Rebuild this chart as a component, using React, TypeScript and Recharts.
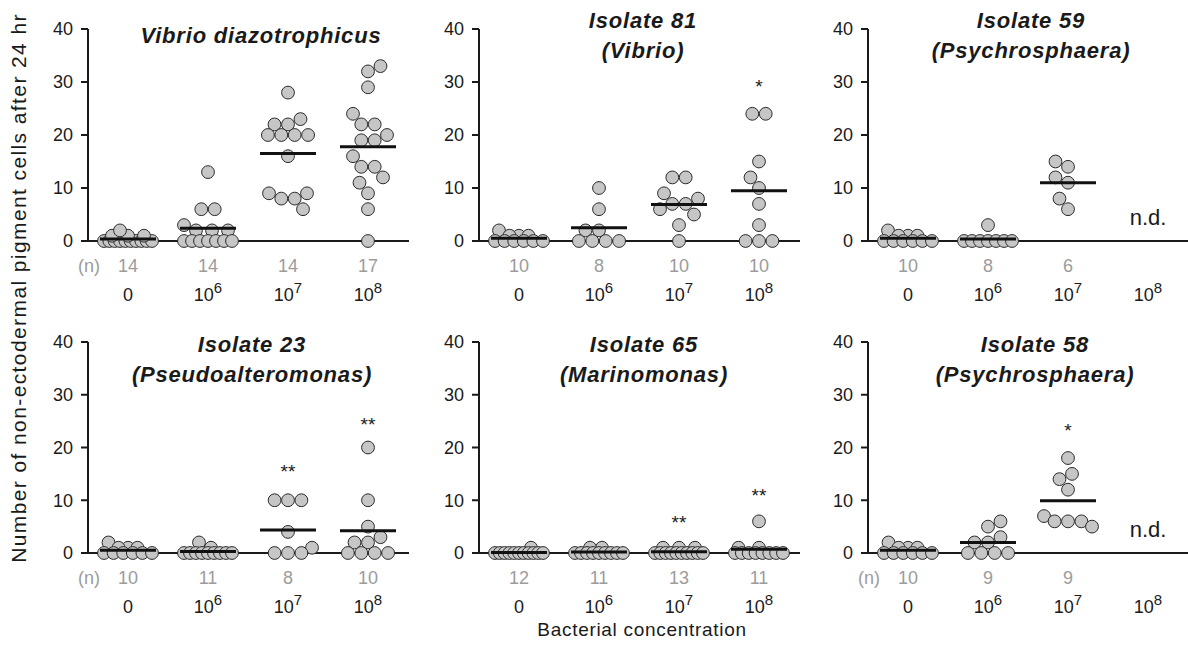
import React from 'react';
import { ScatterChart, Scatter, XAxis, YAxis } from 'recharts';

const FONT = '"Liberation Sans", Arial, Helvetica, sans-serif';

// ---------- shared tick labels ----------
const catBase = ['0', '10', '10', '10'];
const catExp = ['', '6', '7', '8'];
const yTicks = [0, 10, 20, 30, 40];
const xTitle = 'Bacterial concentration';
const yTitle = 'Number of non-ectodermal pigment cells after 24 hr';
const nHeader = '(n)';

// ---------- Panel A: Vibrio diazotrophicus ----------
const titleA = ['Vibrio diazotrophicus'];
const nA = ['14', '14', '14', '17'];
const a0 = [0, 0, 0, 0, 0, 0, 0, 0, 0, 0, 1, 1, 1, 2];
const a6 = [13, 6, 6, 3, 2, 2, 2, 0, 0, 0, 0, 0, 0, 0];
const a7 = [28, 23, 22, 22, 20, 20, 20, 20, 16, 9, 9, 8, 8, 6];
const a8 = [33, 32, 29, 24, 22, 22, 20, 19, 19, 16, 14, 14, 12, 11, 9, 6, 0];
const marksA: Mark[] = [];

// ---------- Panel B: Isolate 81 (Vibrio) ----------
const titleB = ['Isolate 81', '(Vibrio)'];
const nB = ['10', '8', '10', '10'];
const b0 = [2, 1, 1, 1, 0, 0, 0, 0, 0, 0];
const b6 = [10, 6, 2, 2, 0, 0, 0, 0];
const b7 = [12, 12, 9, 8, 7, 7, 6, 5, 3, 0];
const b8 = [24, 24, 15, 12, 10, 7, 3, 0, 0, 0];
const marksB: Mark[] = [{ x: 3, y: 28, label: '*' }];

// ---------- Panel C: Isolate 59 (Psychrosphaera) ----------
const titleC = ['Isolate 59', '(Psychrosphaera)'];
const nC = ['10', '8', '6', ''];
const c0 = [2, 1, 1, 1, 0, 0, 0, 0, 0, 0];
const c6 = [3, 0, 0, 0, 0, 0, 0, 0];
const c7 = [15, 14, 12, 11, 8, 6];
const c8: number[] = [];
const marksC: Mark[] = [{ x: 3, y: 3, label: 'n.d.' }];

// ---------- Panel D: Isolate 23 (Pseudoalteromonas) ----------
const titleD = ['Isolate 23', '(Pseudoalteromonas)'];
const nD = ['10', '11', '8', '10'];
const d0 = [2, 1, 1, 1, 0, 0, 0, 0, 0, 0];
const d6 = [2, 1, 0, 0, 0, 0, 0, 0, 0, 0, 0];
const d7 = [10, 10, 10, 4, 1, 0, 0, 0];
const d8 = [20, 10, 5, 3, 2, 2, 0, 0, 0, 0];
const marksD: Mark[] = [
  { x: 2, y: 14.3, label: '**' },
  { x: 3, y: 23.2, label: '**' },
];

// ---------- Panel E: Isolate 65 (Marinomonas) ----------
const titleE = ['Isolate 65', '(Marinomonas)'];
const nE = ['12', '11', '13', '11'];
const e0 = [1, 0, 0, 0, 0, 0, 0, 0, 0, 0, 0, 0];
const e6 = [1, 1, 0, 0, 0, 0, 0, 0, 0, 0, 0];
const e7 = [1, 1, 1, 0, 0, 0, 0, 0, 0, 0, 0, 0, 0];
const e8 = [6, 1, 1, 0, 0, 0, 0, 0, 0, 0, 0];
const marksE: Mark[] = [
  { x: 2, y: 4.6, label: '**' },
  { x: 3, y: 9.6, label: '**' },
];

// ---------- Panel F: Isolate 58 (Psychrosphaera) ----------
const titleF = ['Isolate 58', '(Psychrosphaera)'];
const nF = ['10', '9', '9', ''];
const f0 = [2, 1, 1, 1, 0, 0, 0, 0, 0, 0];
const f6 = [6, 5, 3, 2, 2, 0, 0, 0, 0];
const f7 = [18, 15, 14, 12, 7, 6, 6, 6, 5];
const f8: number[] = [];
const marksF: Mark[] = [
  { x: 2, y: 22, label: '*' },
  { x: 3, y: 3, label: 'n.d.' },
];

type Mark = { x: number; y: number; label: string };

type PanelDef = {
  title: string[];
  groups: number[][];
  n: string[];
  marks: Mark[];
  showN: boolean;
  col: number;
  row: number;
};

const panels: PanelDef[] = [
  { title: titleA, groups: [a0, a6, a7, a8], n: nA, marks: marksA, showN: true, col: 0, row: 0 },
  { title: titleB, groups: [b0, b6, b7, b8], n: nB, marks: marksB, showN: false, col: 1, row: 0 },
  { title: titleC, groups: [c0, c6, c7, c8], n: nC, marks: marksC, showN: false, col: 2, row: 0 },
  { title: titleD, groups: [d0, d6, d7, d8], n: nD, marks: marksD, showN: true, col: 0, row: 1 },
  { title: titleE, groups: [e0, e6, e7, e8], n: nE, marks: marksE, showN: false, col: 1, row: 1 },
  { title: titleF, groups: [f0, f6, f7, f8], n: nF, marks: marksF, showN: true, col: 2, row: 1 },
];

// ---------- layout ----------
const colAxisX = [88, 479, 868];
const colPlotW = [321, 321, 320];
const rowTop = [29, 342];
const rowBottom = [241, 553];
const titleCenterX = [
  [261, 643, 1031],
  [252, 644, 1035],
];
const PPX = 80; // pixels per category
const DOT_D = 13.4;
const HALF = 24;

// beeswarm layout (pixel offsets) computed from the values
function swarm(values: number[], ppy: number): number[] {
  const offs = new Array(values.length).fill(0);
  const placed: { x: number; y: number }[] = [];
  const map = new Map<number, number[]>();
  values.forEach((v, i) => {
    if (!map.has(v)) map.set(v, []);
    map.get(v)!.push(i);
  });
  const grps = Array.from(map.entries()).sort(
    (a, b) => b[1].length - a[1].length || a[0] - b[0]
  );
  const minDist = (x: number, y: number) =>
    placed.reduce((m, p) => Math.min(m, Math.hypot(p.x - x, p.y - y)), Infinity);
  let side = 1;
  for (const [v, idxs] of grps) {
    const y = v * ppy;
    const k = idxs.length;
    if (k > 1) {
      const sp = Math.min(DOT_D, (2 * HALF) / (k - 1));
      const xs = idxs.map((_, j) => (j - (k - 1) / 2) * sp);
      const ok = xs.every((x) => minDist(x, y) >= DOT_D - 0.01);
      if (ok) {
        idxs.forEach((i, j) => {
          offs[i] = xs[j];
          placed.push({ x: xs[j], y });
        });
        continue;
      }
    }
    for (const i of idxs) {
      let best = 0;
      let bestD = -1;
      let found = false;
      for (let s = 0; s * 0.5 <= HALF && !found; s++) {
        const mag = s * 0.5;
        const signs = mag === 0 ? [1] : [side, -side];
        for (const sg of signs) {
          const x = sg * mag;
          const d = minDist(x, y);
          if (d >= DOT_D - 0.01) {
            best = x;
            found = true;
            break;
          }
          if (d > bestD + 1e-6) {
            bestD = d;
            best = x;
          }
        }
      }
      offs[i] = best;
      placed.push({ x: best, y });
      side = -side;
    }
  }
  return offs;
}

const dotShape = (props: any) => {
  const { cx, cy } = props;
  if (cx == null || cy == null) return <g />;
  return <circle cx={cx} cy={cy} r={6.4} fill="#c6c6c6" stroke="#2b2b2b" strokeWidth={1} />;
};

const meanShape = (props: any) => {
  const { cx, cy } = props;
  if (cx == null || cy == null) return <g />;
  return <line x1={cx - 28} x2={cx + 28} y1={cy} y2={cy} stroke="#111" strokeWidth={3} />;
};

const markShape = (props: any) => {
  const { cx, cy, payload } = props;
  if (cx == null || cy == null) return <g />;
  const isNd = payload.label === 'n.d.';
  return (
    <text
      x={cx}
      y={cy}
      textAnchor="middle"
      fontSize={isNd ? 22 : 19}
      fill="#1a1a1a"
      fontFamily={FONT}
    >
      {payload.label}
    </text>
  );
};

const makeTick = (nLabels: string[]) => (props: any) => {
  const { x, y, payload } = props;
  const i = Math.round(payload.value);
  return (
    <g>
      {nLabels[i] ? (
        <text x={x} y={y + 31} textAnchor="middle" fontSize={18} fill="#9c9c9c" fontFamily={FONT}>
          {nLabels[i]}
        </text>
      ) : null}
      <text x={x} y={y + 60} textAnchor="middle" fontSize={18} fill="#1a1a1a" fontFamily={FONT}>
        {catBase[i]}
        {catExp[i] ? (
          <tspan dy={-8} fontSize={15}>
            {catExp[i]}
          </tspan>
        ) : null}
      </text>
    </g>
  );
};

function Panel({ p }: { p: PanelDef }) {
  const axisX = colAxisX[p.col];
  const plotW = colPlotW[p.col];
  const yTop = rowTop[p.row];
  const yBot = rowBottom[p.row];
  const MT = 20;
  const XH = 75;
  const YW = 80;
  const width = YW + plotW;
  const height = MT + (yBot - yTop) + XH;
  const xMax = -0.5 + plotW / PPX;
  const ppy = (yBot - yTop) / 40;

  const dots = p.groups.flatMap((g, ci) => {
    const offs = swarm(g, ppy);
    return g.map((v, k) => ({ x: ci + offs[k] / PPX, y: v }));
  });
  const means = p.groups
    .map((g, ci) => (g.length ? { x: ci, y: g.reduce((s, v) => s + v, 0) / g.length } : null))
    .filter((m) => m !== null) as { x: number; y: number }[];

  return (
    <div style={{ position: 'absolute', left: axisX - YW, top: yTop - MT, width, height }}>
      <ScatterChart width={width} height={height} margin={{ top: MT, right: 0, bottom: 0, left: 0 }}>
        <XAxis
          type="number"
          dataKey="x"
          domain={[-0.5, xMax]}
          ticks={[0, 1, 2, 3]}
          interval={0}
          tickSize={0}
          tickMargin={0}
          tick={makeTick(p.n)}
          axisLine={{ stroke: '#1a1a1a', strokeWidth: 2 }}
          tickLine={false}
          height={XH}
        />
        <YAxis
          type="number"
          dataKey="y"
          domain={[0, 40]}
          ticks={yTicks}
          interval={0}
          width={YW}
          tickSize={7}
          tickMargin={8}
          axisLine={{ stroke: '#1a1a1a', strokeWidth: 2 }}
          tickLine={{ stroke: '#1a1a1a', strokeWidth: 2 }}
          tick={{ fontSize: 18, fill: '#1a1a1a', fontFamily: FONT }}
        />
        <Scatter data={dots} isAnimationActive={false} shape={dotShape} />
        <Scatter data={means} isAnimationActive={false} shape={meanShape} />
        <Scatter data={p.marks} isAnimationActive={false} shape={markShape} />
      </ScatterChart>
    </div>
  );
}

export default function App() {
  return (
    <div
      style={{
        position: 'absolute',
        left: 0,
        top: 0,
        width: 1188,
        height: 651,
        background: '#fff',
        fontFamily: FONT,
      }}
    >
      {panels.map((p, i) => (
        <Panel key={i} p={p} />
      ))}
      <svg
        width={1188}
        height={651}
        style={{ position: 'absolute', left: 0, top: 0, pointerEvents: 'none' }}
      >
        {panels.map((p, i) => {
          const cx = titleCenterX[p.row][p.col];
          const single = p.title.length === 1;
          const base = p.row === 0 ? 28 : 352;
          return (
            <g key={i}>
              {p.title.map((t, j) => (
                <text
                  key={j}
                  x={cx}
                  y={single ? 43 : base + j * 30}
                  textAnchor="middle"
                  fontSize={22}
                  fontWeight="bold"
                  fontStyle="italic"
                  letterSpacing={0.8}
                  fill="#1a1a1a"
                  fontFamily={FONT}
                >
                  {t}
                </text>
              ))}
              {p.showN ? (
                <text
                  x={colAxisX[p.col] + 1}
                  y={rowBottom[p.row] + 31}
                  textAnchor="middle"
                  fontSize={18}
                  fill="#9c9c9c"
                  fontFamily={FONT}
                >
                  {nHeader}
                </text>
              ) : null}
            </g>
          );
        })}
        <text
          x={642}
          y={636}
          textAnchor="middle"
          fontSize={19}
          letterSpacing={0.7}
          fill="#1a1a1a"
          fontFamily={FONT}
        >
          {xTitle}
        </text>
        <text
          transform="translate(26,288) rotate(-90)"
          textAnchor="middle"
          fontSize={21}
          letterSpacing={1.4}
          fill="#1a1a1a"
          fontFamily={FONT}
        >
          {yTitle}
        </text>
      </svg>
    </div>
  );
}
